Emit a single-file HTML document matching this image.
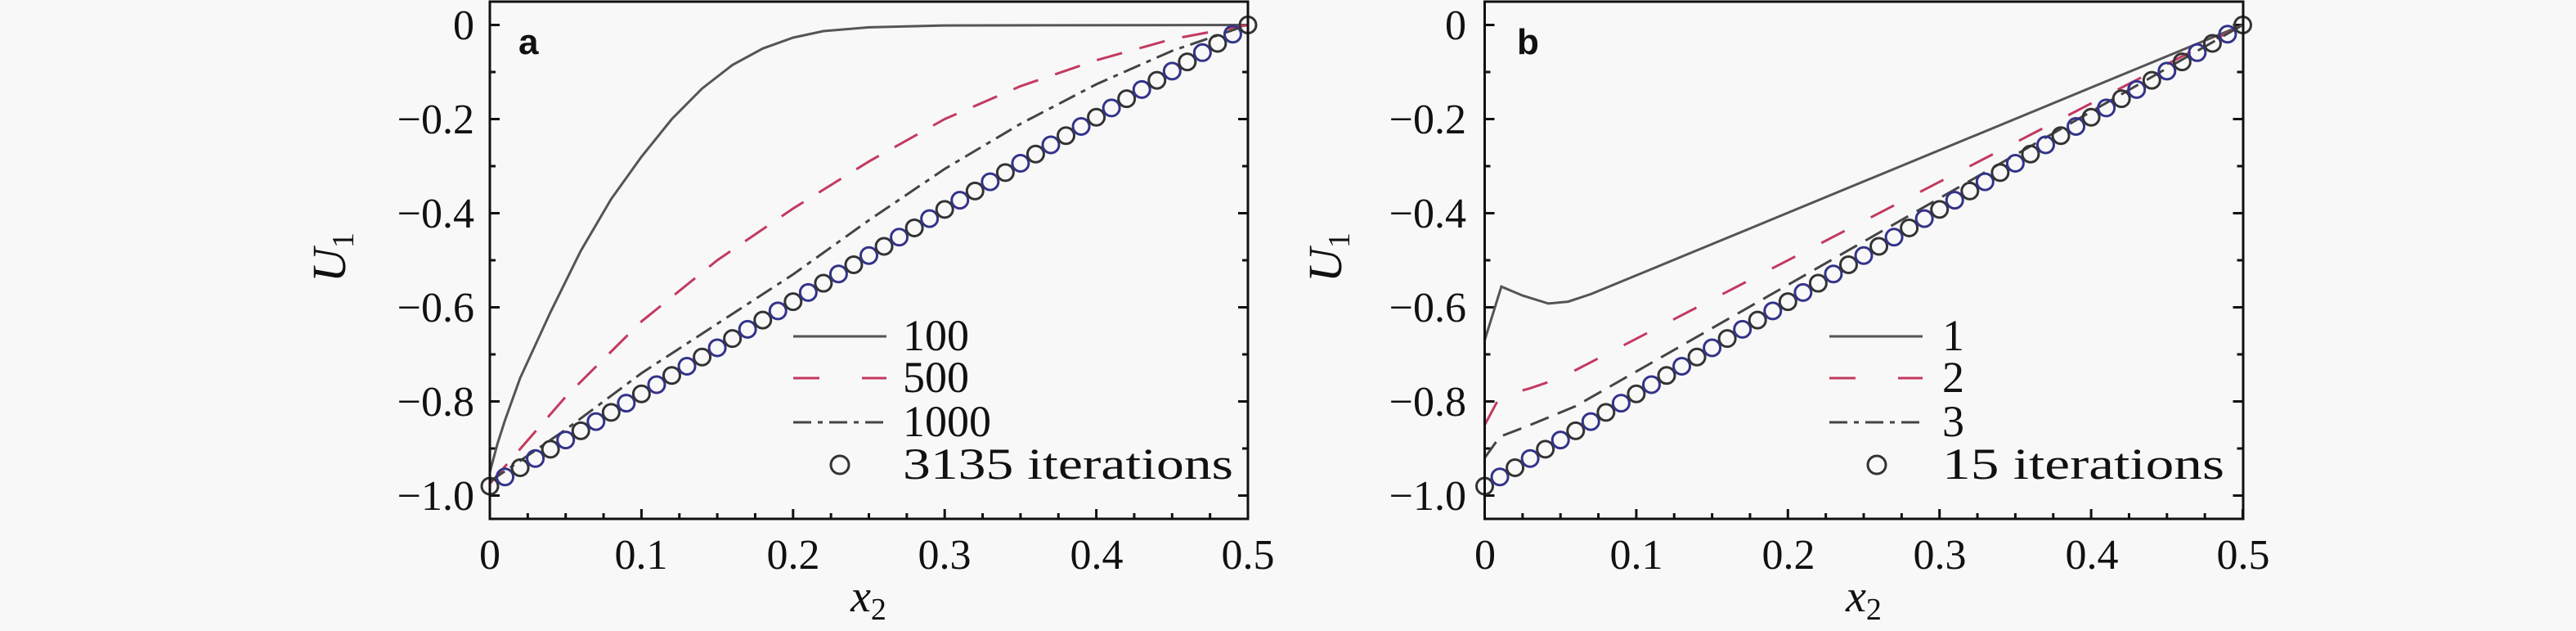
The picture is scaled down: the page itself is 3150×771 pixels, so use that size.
<!DOCTYPE html>
<html><head><meta charset="utf-8"><style>
html,body{margin:0;padding:0;background:#f8f8f8;}
svg{display:block;}
svg text{font-family:"Liberation Serif","DejaVu Serif",serif;fill:#111;}
</style></head><body>
<svg id="s" width="3150" height="771" viewBox="0 0 3150 771" xmlns="http://www.w3.org/2000/svg" font-family="Liberation Serif, DejaVu Serif, serif">
<rect width="3150" height="771" fill="#f8f8f8"/>
<g id="g"></g>
<g font-size="52" text-anchor="end" font-family="Liberation Serif, serif">
<text x="580" y="48">0</text>
<text x="580" y="163">−0.2</text>
<text x="580" y="278">−0.4</text>
<text x="580" y="393">−0.6</text>
<text x="580" y="508">−0.8</text>
<text x="580" y="623">−1.0</text>
<text x="1793" y="48">0</text>
<text x="1793" y="163">−0.2</text>
<text x="1793" y="278">−0.4</text>
<text x="1793" y="393">−0.6</text>
<text x="1793" y="508">−0.8</text>
<text x="1793" y="623">−1.0</text>
</g>
<g font-size="52" text-anchor="middle" font-family="Liberation Serif, serif">
<text x="599" y="695">0</text>
<text x="784" y="695">0.1</text>
<text x="970" y="695">0.2</text>
<text x="1155" y="695">0.3</text>
<text x="1341" y="695">0.4</text>
<text x="1526" y="695">0.5</text>
<text x="1816" y="695">0</text>
<text x="2001" y="695">0.1</text>
<text x="2187" y="695">0.2</text>
<text x="2372" y="695">0.3</text>
<text x="2558" y="695">0.4</text>
<text x="2743" y="695">0.5</text>
</g>
<g font-family="Liberation Serif, serif">
<text x="1062" y="747" font-size="56" font-style="italic" text-anchor="middle">x<tspan font-size="38" font-style="normal" dy="10">2</tspan></text>
<text x="2279" y="747" font-size="56" font-style="italic" text-anchor="middle">x<tspan font-size="38" font-style="normal" dy="10">2</tspan></text>
<text transform="translate(422,345) rotate(-90)" font-size="58" font-style="italic">U<tspan font-size="38" font-style="normal" dy="10">1</tspan></text>
<text transform="translate(1640,345) rotate(-90)" font-size="58" font-style="italic">U<tspan font-size="38" font-style="normal" dy="10">1</tspan></text>
</g>
<text x="634" y="66" font-weight="bold" font-size="44" style="font-family:'Liberation Sans',sans-serif">a</text>
<text x="1855" y="66" font-weight="bold" font-size="44" style="font-family:'Liberation Sans',sans-serif">b</text>
<g font-size="54" font-family="Liberation Serif, serif">
<text x="1104" y="428">100</text>
<text x="1104" y="479">500</text>
<text x="1104" y="533">1000</text>
<text x="1104" y="585" textLength="404" lengthAdjust="spacingAndGlyphs">3135 iterations</text>
<text x="2375" y="428">1</text>
<text x="2375" y="479">2</text>
<text x="2375" y="533">3</text>
<text x="2375" y="585" textLength="345" lengthAdjust="spacingAndGlyphs">15 iterations</text>
</g>
</svg>
<script>
var g=document.getElementById('g'),NS='http://www.w3.org/2000/svg';
function el(t,a){var e=document.createElementNS(NS,t);for(var k in a)e.setAttribute(k,a[k]);g.appendChild(e);return e;}
function Y(y){return 30.5-y*575;}
function panel(x0,cs){
 var X=function(x){return x0+x*1854;};
 for(var i=0;i<=20;i++){var x=X(i*0.025);el('line',{x1:x,y1:634,x2:x,y2:i%4==0?622:627,stroke:'#111','stroke-width':3});}
 for(var j=0;j<=10;j++){var y=Y(-j*0.1);var L=j%2==0?12:7;
  el('line',{x1:x0,y1:y,x2:x0+L,y2:y,stroke:'#111','stroke-width':3});
  el('line',{x1:X(0.5),y1:y,x2:X(0.5)-L,y2:y,stroke:'#111','stroke-width':3});}
 function curve(pts,st,da){var d='';pts.forEach(function(p,i){d+=(i?'L':'M')+X(p[0]).toFixed(1)+' '+Y(p[1]).toFixed(1);});
  var a={d:d,fill:'none',stroke:st,'stroke-width':3};if(da)a['stroke-dasharray']=da;el('path',a);}
 cs.forEach(function(c){curve(c[0],c[1],c[2]);});
 for(var k=0;k<=50;k++){var x=k*0.01;el('circle',{cx:X(x),cy:Y(-0.98+x*1.96),r:10,fill:'none',stroke:k%2?'#33338a':'#333','stroke-width':3});}
 return X;
}
panel(599,[
 [[[0,-0.95],[0.005,-0.89],[0.01,-0.84],[0.02,-0.75],[0.04,-0.61],[0.06,-0.48],[0.08,-0.37],[0.1,-0.28],[0.12,-0.2],[0.14,-0.135],[0.16,-0.085],[0.18,-0.05],[0.2,-0.027],[0.22,-0.013],[0.25,-0.005],[0.3,-0.001],[0.5,0]],'#555',null],
 [[[0,-0.975],[0.05,-0.79],[0.1,-0.63],[0.15,-0.5],[0.2,-0.39],[0.25,-0.29],[0.3,-0.2],[0.35,-0.13],[0.4,-0.075],[0.45,-0.03],[0.5,0]],'#c33a5f','32 22'],
 [[[0,-0.97],[0.05,-0.86],[0.1,-0.74],[0.15,-0.635],[0.2,-0.53],[0.25,-0.415],[0.3,-0.306],[0.35,-0.21],[0.4,-0.126],[0.45,-0.055],[0.5,0]],'#444','22 8 6 8']
]);
panel(1815.5,[
 [[[0,-0.67],[0.011,-0.556],[0.025,-0.575],[0.042,-0.592],[0.055,-0.588],[0.07,-0.572],[0.5,0]],'#555',null],
 [[[0,-0.85],[0.01,-0.79],[0.03,-0.772],[0.05,-0.75],[0.5,0]],'#c33a5f','32 36'],
 [[[0,-0.92],[0.01,-0.875],[0.03,-0.85],[0.06,-0.81],[0.5,0]],'#444','24 12']
]);
[[599,1526],[1815.5,2743]].forEach(function(p){el('rect',{x:p[0],y:2,width:p[1]-p[0],height:632,fill:'none',stroke:'#111','stroke-width':3});});
function leg(x1,x2,cx){
 el('line',{x1:x1,y1:411,x2:x2,y2:411,stroke:'#555','stroke-width':3});
 el('line',{x1:x1,y1:462,x2:x2,y2:462,stroke:'#c33a5f','stroke-width':3,'stroke-dasharray':'32 52'});
 el('line',{x1:x1,y1:516,x2:x2,y2:516,stroke:'#444','stroke-width':3,'stroke-dasharray':'22 8 6 8'});
 el('circle',{cx:cx,cy:568,r:11,fill:'none',stroke:'#333','stroke-width':3});
}
leg(970,1084,1027);leg(2237,2351,2295);
</script>
</body></html>
